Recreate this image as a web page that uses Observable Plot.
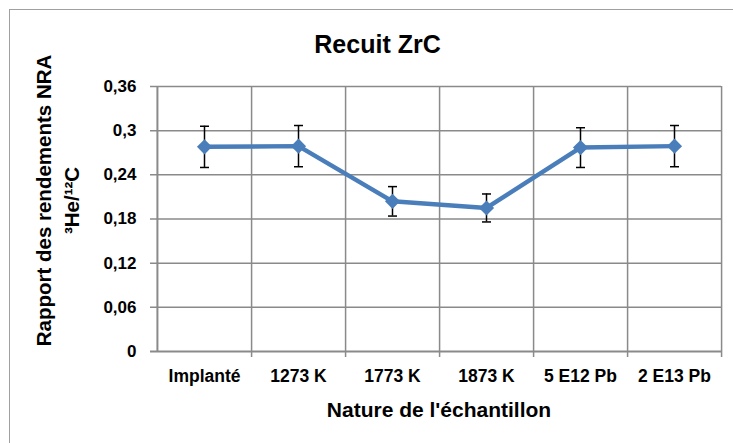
<!DOCTYPE html>
<html>
<head>
<meta charset="utf-8">
<script src="https://cdn.jsdelivr.net/npm/d3@7"></script>
<script src="https://cdn.jsdelivr.net/npm/@observablehq/plot@0.6"></script>
<style>
  html, body { margin: 0; padding: 0; background: #fff; overflow: hidden; }
  #wrap { position: relative; width: 733px; height: 443px; }
  #frame { position: absolute; left: 9px; top: 9px; width: 800px; height: 600px;
           border: 1.5px solid #a0a0a0; pointer-events: none; }
  svg { display: block; }
</style>
</head>
<body>
<div id="wrap"><div id="frame"></div></div>
<script>
// ---- data ----
const categories = ["Implanté", "1273 K", "1773 K", "1873 K", "5 E12 Pb", "2 E13 Pb"];
const ratio  = [0.278, 0.279, 0.204, 0.195, 0.277, 0.279];
const errors = [0.028, 0.028, 0.020, 0.019, 0.027, 0.028];
const yTicks = [0, 0.06, 0.12, 0.18, 0.24, 0.3, 0.36];
const yTickLabels = ["0", "0,06", "0,12", "0,18", "0,24", "0,3", "0,36"];
const title = "Recuit ZrC";
const xTitle = "Nature de l'échantillon";
const yTitle1 = "Rapport des rendements NRA";
const yTitle2 = "³He/¹²C";

const data = categories.map((c, i) => ({cat: c, v: ratio[i], e: errors[i]}));

const W = 733, H = 443;
const mL = 156, mR = 12, mT = 86, mB = 92;
const step = (W - mL - mR) / categories.length;

const font = "'Liberation Sans', Arial, sans-serif";
const grid = "#8a8a8a";
const blue = "#4a7ebb";

// horizontal cap symbol for error bars
const capSymbol = {draw(ctx) { ctx.moveTo(-4.5, 0); ctx.lineTo(4.5, 0); }};

const chart = Plot.plot({
  width: W, height: H,
  marginLeft: mL, marginRight: mR, marginTop: mT, marginBottom: mB,
  style: {fontFamily: font, fontWeight: "bold", color: "#000", background: "transparent"},
  x: {type: "point", domain: categories, padding: 0.5, label: null},
  y: {domain: [0, 0.36], label: null},
  marks: [
    Plot.ruleY(yTicks.filter(d => d > 0), {stroke: grid, strokeWidth: 1.5, insetLeft: -6}),
    Plot.ruleX(categories, {stroke: grid, strokeWidth: 1.5, dx: step / 2, insetBottom: -6}),
    Plot.ruleX([categories[0]], {stroke: grid, strokeWidth: 2, dx: -step / 2}),
    Plot.ruleY([0], {stroke: grid, strokeWidth: 2, insetLeft: -6}),
    Plot.axisY({ticks: yTicks, tickFormat: d => yTickLabels[yTicks.indexOf(d)], tickSize: 0, tickPadding: 20, fontSize: 17, fill: "#000"}),
    Plot.axisX({tickSize: 0, tickPadding: 18, fontSize: 17.5, fill: "#000"}),
    // error bars
    Plot.ruleX(data, {x: "cat", y1: d => d.v - d.e, y2: d => d.v + d.e, stroke: "#000", strokeWidth: 1.5}),
    Plot.dot(data, {x: "cat", y: d => d.v + d.e, symbol: capSymbol, stroke: "#000", fill: "none", strokeWidth: 1.5}),
    Plot.dot(data, {x: "cat", y: d => d.v - d.e, symbol: capSymbol, stroke: "#000", fill: "none", strokeWidth: 1.5}),
    // series line and markers
    Plot.line(data, {x: "cat", y: "v", stroke: blue, strokeWidth: 4.5}),
    Plot.dot(data, {x: "cat", y: "v", symbol: "diamond2", r: 6.8, fill: blue, stroke: "none"}),
    // titles
    Plot.text([title], {frameAnchor: "top", dx: -61.5, dy: -41.5, fontSize: 25, fontWeight: "bold", fill: "#000", lineAnchor: "middle"}),
    Plot.text([xTitle], {frameAnchor: "bottom", dy: 59, fontSize: 21, fontWeight: "bold", fill: "#000", lineAnchor: "middle"}),
    Plot.text([yTitle1], {frameAnchor: "left", textAnchor: "middle", dx: -112, dy: -18.5, rotate: -90, fontSize: 20.5, fontWeight: "bold", fill: "#000", lineAnchor: "middle"}),
    Plot.text([yTitle2], {frameAnchor: "left", textAnchor: "middle", dx: -84, dy: -18.5, rotate: -90, fontSize: 20.5, fontWeight: "bold", fill: "#000", lineAnchor: "middle"})
  ]
});
document.getElementById("wrap").prepend(chart);
</script>
</body>
</html>
